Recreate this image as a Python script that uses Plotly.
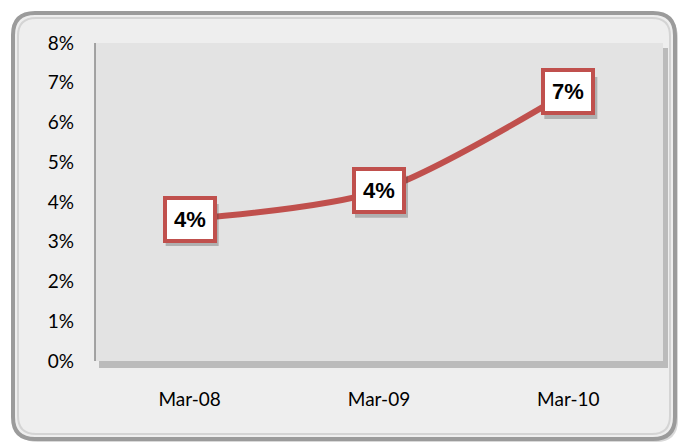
import plotly.graph_objects as go

categories = ["Mar-08", "Mar-09", "Mar-10"]
values = [3.57, 4.28, 6.77]
y_ticks = [0, 1, 2, 3, 4, 5, 6, 7, 8]
y_tick_labels = [f"{t}%" for t in y_ticks]
labels = [f"{round(v)}%" for v in values]

W, H = 681, 445
L, R, T, B = 95, 18, 43, 84
pw, ph = W - L - R, H - T - B

def px(x):
    return (x - L) / pw

def py(y):
    return (H - B - y) / ph

def rrect(x0, y0, x1, y1, r):
    def p(x, y):
        return f"{px(x):.5f},{py(y):.5f}"
    return (f"M {p(x0 + r, y0)} L {p(x1 - r, y0)} Q {p(x1, y0)} {p(x1, y0 + r)} "
            f"L {p(x1, y1 - r)} Q {p(x1, y1)} {p(x1 - r, y1)} "
            f"L {p(x0 + r, y1)} Q {p(x0, y1)} {p(x0, y1 - r)} "
            f"L {p(x0, y0 + r)} Q {p(x0, y0)} {p(x0 + r, y0)} Z")

fig = go.Figure()

fig.add_trace(go.Scatter(
    x=categories, y=values, mode="lines",
    line=dict(color="#C0504D", width=6, shape="spline", smoothing=0.8),
    hoverinfo="skip", showlegend=False,
))

shapes = [
    dict(type="path", xref="paper", yref="paper", path=rrect(16, 16, 678, 442, 22),
         fillcolor="rgba(0,0,0,0.15)", line=dict(width=0), layer="below"),
    dict(type="path", xref="paper", yref="paper", path=rrect(13, 13, 675, 439, 22),
         fillcolor="#EEEEEE", line=dict(color="#9B9B9B", width=4), layer="below"),
    dict(type="path", xref="paper", yref="paper", path=rrect(18, 18, 670, 434, 18),
         fillcolor="rgba(0,0,0,0)", line=dict(color="#D4D4D4", width=2), layer="below"),
    dict(type="rect", xref="paper", yref="paper", x0=px(L + 4), x1=px(W - R + 5),
         y0=py(H - B + 7), y1=py(T + 5), fillcolor="rgba(110,110,110,0.4)",
         line=dict(width=0), layer="below"),
    dict(type="rect", xref="paper", yref="paper", x0=0, x1=1, y0=0, y1=1,
         fillcolor="#E3E3E3", line=dict(width=0), layer="below"),
    dict(type="line", xref="paper", yref="paper", x0=0, x1=0, y0=0, y1=1,
         line=dict(color="#8A8A8A", width=1.5), layer="below"),
]

for c, v in zip(categories, values):
    shapes.append(dict(
        type="rect", xref="x", yref="y", xsizemode="pixel", ysizemode="pixel",
        xanchor=c, yanchor=v, x0=-24, x1=29, y0=-27, y1=15,
        fillcolor="rgba(60,60,60,0.3)", line=dict(width=0), layer="above",
    ))

annotations = []
for c, v, t in zip(categories, values, labels):
    annotations.append(dict(
        x=c, y=v, xref="x", yref="y", text=f"<b>{t}</b>", showarrow=False,
        font=dict(family="Liberation Sans", size=22, color="black"),
        bgcolor="white", bordercolor="#C0504D", borderwidth=4, borderpad=7,
    ))

fig.update_layout(
    width=W, height=H,
    margin=dict(l=L, r=R, t=T, b=B),
    paper_bgcolor="white",
    plot_bgcolor="rgba(0,0,0,0)",
    shapes=shapes,
    annotations=annotations,
    showlegend=False,
    font=dict(family="Lato", size=19, color="black"),
    xaxis=dict(
        type="category", range=[-0.5, 2.5], showgrid=False, zeroline=False,
        showline=False, ticks="", ticklabelstandoff=25,
        tickfont=dict(family="Lato", size=19, color="black"),
    ),
    yaxis=dict(
        range=[0, 8], tickvals=y_ticks, ticktext=y_tick_labels,
        showgrid=False, zeroline=False, showline=False, ticks="",
        ticklabelstandoff=20,
        tickfont=dict(family="Lato", size=19, color="black"),
    ),
)

fig.write_html("out.html", config={"displayModeBar": False},
               post_script="document.body.style.margin='0';")
